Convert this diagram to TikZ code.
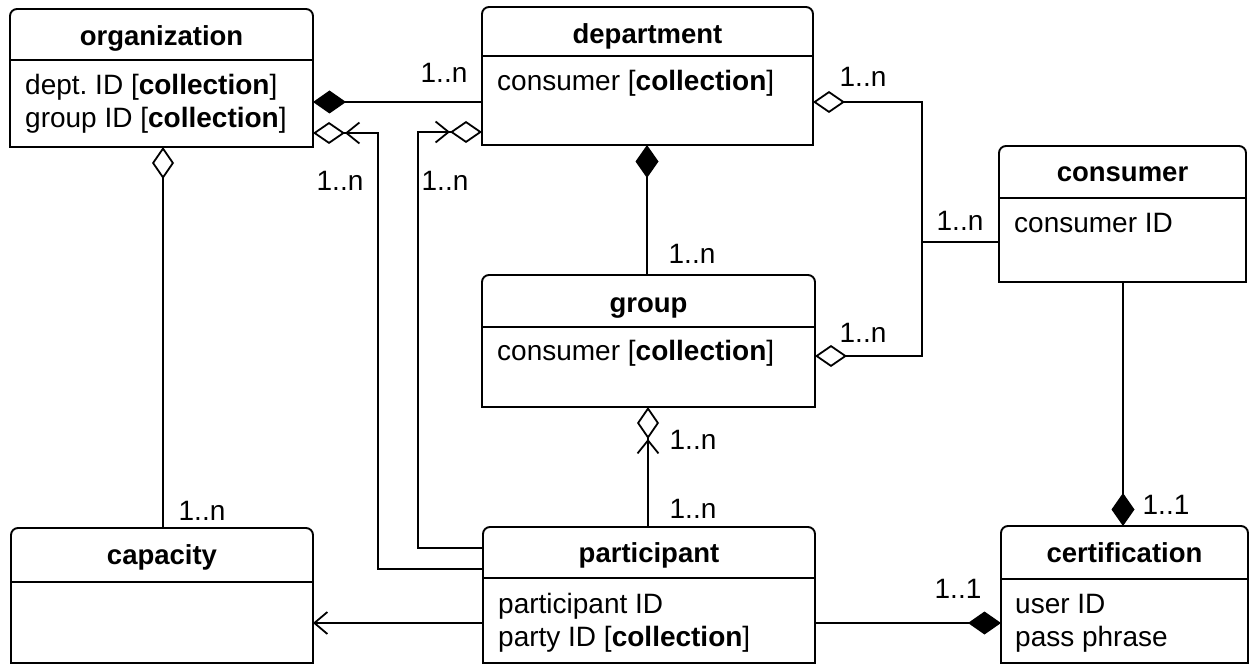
\documentclass[tikz,border=0pt]{standalone}
\usepackage{fontspec}
\setmainfont{Liberation Sans}
\usetikzlibrary{arrows.meta}
\newcommand\umlframe[2]{%
  \draw[boxline] (#1.south west) -- ([yshift=-7pt]#1.north west)
    arc[start angle=180,end angle=90,radius=7pt] -- ([xshift=-7pt]#1.north east)
    arc[start angle=90,end angle=0,radius=7pt] -- (#1.south east) -- cycle;
  \draw[boxline] ([yshift=-#2]#1.north west) -- ([yshift=-#2]#1.north east);}
\tikzset{
  cls/.style={draw=none,inner sep=0pt,outer sep=0pt,rectangle},
  boxline/.style={line width=1.9pt,black},
  txt/.style={inner sep=0pt,font=\fontsize{28}{33}\selectfont},
  ttl/.style={txt,anchor=base,font=\fontsize{27.5}{33}\selectfont\bfseries},
  attr/.style={txt,anchor=base west},
  mult/.style={txt,anchor=base},
  conn/.style={line width=1.8pt,black},
  comp/.style={conn,-{Diamond[length=33pt,width=23pt]}},
  agg/.style={conn,-{Diamond[open,length=32pt,width=22pt]}},
  aggnav/.style={conn,-{Straight Barb[length=13pt,width=21pt] Diamond[open,length=32pt,width=22pt]}},
  nav/.style={conn,-{Straight Barb[length=13pt,width=22pt]}},
}
\begin{document}
\begin{tikzpicture}[x=1pt,y=1pt]
\fill[white] (0,0) rectangle (1254,-666);
\useasboundingbox (0,0) rectangle (1254,-666);
% class boxes
\node[cls,minimum width=303pt,minimum height=138pt] (org) at (161.5,-78) {};
\node[cls,minimum width=331pt,minimum height=138pt] (dept) at (647.5,-76) {};
\node[cls,minimum width=247pt,minimum height=136pt] (cons) at (1122.5,-214) {};
\node[cls,minimum width=333pt,minimum height=132pt] (group) at (648.5,-341) {};
\node[cls,minimum width=302pt,minimum height=135pt] (cap) at (162,-595.5) {};
\node[cls,minimum width=332pt,minimum height=136pt] (part) at (649,-595) {};
\node[cls,minimum width=247pt,minimum height=137pt] (cert) at (1124.5,-594.5) {};
\umlframe{org}{51pt}
\umlframe{dept}{49pt}
\umlframe{cons}{52pt}
\umlframe{group}{52pt}
\umlframe{cap}{54pt}
\umlframe{part}{51pt}
\umlframe{cert}{53pt}
% titles
\node[ttl] (orgT) at (161.5,-46) {organization};
\node[ttl] (deptT) at (647.5,-44) {department};
\node[ttl] (consT) at (1122.5,-182) {consumer};
\node[ttl] (groupT) at (648.5,-312) {group};
\node[ttl] (capT) at (162,-564) {capacity};
\node[ttl] (partT) at (649,-562) {participant};
\node[ttl] (certT) at (1124.5,-562) {certification};
% attributes
\node[attr] (orgA1) at (25,-95) {dept.\ ID [\textbf{collection}]};
\node[attr] (orgA2) at (25,-128) {group ID [\textbf{collection}]};
\node[attr] (deptA1) at (497,-91) {consumer [\textbf{collection}]};
\node[attr] (consA1) at (1014,-233) {consumer ID};
\node[attr] (groupA1) at (497,-360) {consumer [\textbf{collection}]};
\node[attr] (partA1) at (498,-613) {participant ID};
\node[attr] (partA2) at (498,-646) {party ID [\textbf{collection}]};
\node[attr] (certA1) at (1015,-613) {user ID};
\node[attr] (certA2) at (1015,-646) {pass phrase};
% connectors
\draw[comp] (dept.west |- 0,-102) -- (org.east |- 0,-102);
\draw[aggnav] (part.west |- 0,-569) -- (378,-569) -- (378,-133) -- (org.east |- 0,-133);
\draw[aggnav] (part.west |- 0,-548) -- (418,-548) -- (418,-132) -- (dept.west |- 0,-132);
\draw[agg] (cap.north -| 163,0) -- (org.south -| 163,0);
\draw[comp] (group.north -| 647,0) -- (dept.south -| 647,0);
\draw[agg] (cons.west |- 0,-242) -- (922,-242) -- (922,-102) -- (dept.east |- 0,-102);
\draw[agg] (cons.west |- 0,-242) -- (922,-242) -- (922,-356) -- (group.east |- 0,-356);
\draw[aggnav] (part.north -| 648,0) -- (group.south -| 648,0);
\draw[comp] (cons.south -| 1123,0) -- (cert.north -| 1123,0);
\draw[comp] (part.east |- 0,-623) -- (cert.west |- 0,-623);
\draw[nav] (part.west |- 0,-623) -- (cap.east |- 0,-623);
% multiplicities
\node[mult] (m1) at (444,-83) {1..n};
\node[mult] (m2) at (340,-190) {1..n};
\node[mult] (m3) at (445,-190) {1..n};
\node[mult] (m4) at (863,-87) {1..n};
\node[mult] (m5) at (692,-263) {1..n};
\node[mult] (m6) at (960,-230) {1..n};
\node[mult] (m7) at (863,-342) {1..n};
\node[mult] (m8) at (693,-449) {1..n};
\node[mult] (m9) at (693,-518) {1..n};
\node[mult] (m10) at (202,-520) {1..n};
\node[mult] (m11) at (1166,-514) {1..1};
\node[mult] (m12) at (958,-598) {1..1};
\end{tikzpicture}
\end{document}
